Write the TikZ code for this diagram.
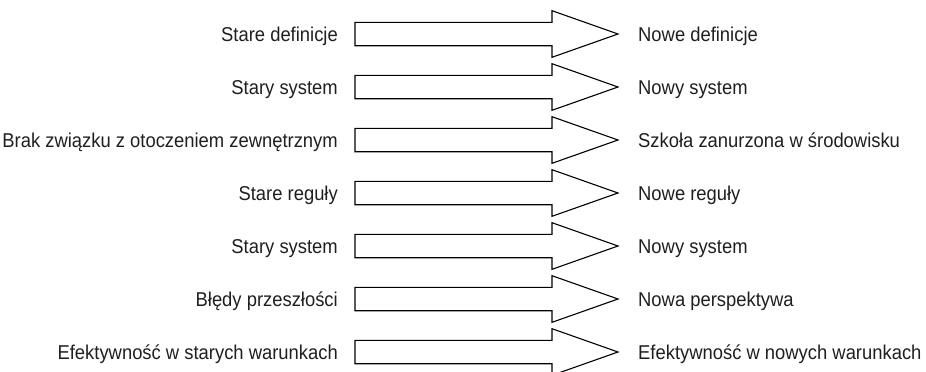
\documentclass[tikz,border=0pt]{standalone}
\usepackage{fontspec}
\setmainfont[FakeStretch=0.92]{Liberation Sans}
\usetikzlibrary{calc}
\begin{document}
\begin{tikzpicture}[x=1pt,y=-1pt,
  lbl/.style={font=\fontsize{20}{23}\selectfont, inner sep=0pt, text=black!88},
  bigarrow/.style={draw=black, line width=1.1pt, line join=miter, fill=white}]
\useasboundingbox (0,0) rectangle (926,372);
\foreach \l/\r [count=\i from 0] in {
  Stare definicje/Nowe definicje,
  Stary system/Nowy system,
  Brak związku z otoczeniem zewnętrznym/Szkoła zanurzona w środowisku,
  Stare reguły/Nowe reguły,
  Stary system/Nowy system,
  Błędy przeszłości/Nowa perspektywa,
  Efektywność w starych warunkach/Efektywność w nowych warunkach} {
  \pgfmathsetmacro\yc{34+53*\i}
  % shaft tail and arrow tip
  \coordinate (t\i) at (355,\yc);
  \coordinate (h\i) at (618,\yc);
  \draw[bigarrow] ($(t\i)+(0,-11.7)$) -- (552,\yc-11.7) -- (552,\yc-23.3)
    -- (h\i) -- (552,\yc+23.3) -- (552,\yc+11.7) -- ($(t\i)+(0,11.7)$) -- cycle;
  \node[lbl, anchor=base east] (L\i) at (338,\yc+7.4) {\l};
  \node[lbl, anchor=base west] (R\i) at (638,\yc+7.4) {\r};
}
\end{tikzpicture}
\end{document}
